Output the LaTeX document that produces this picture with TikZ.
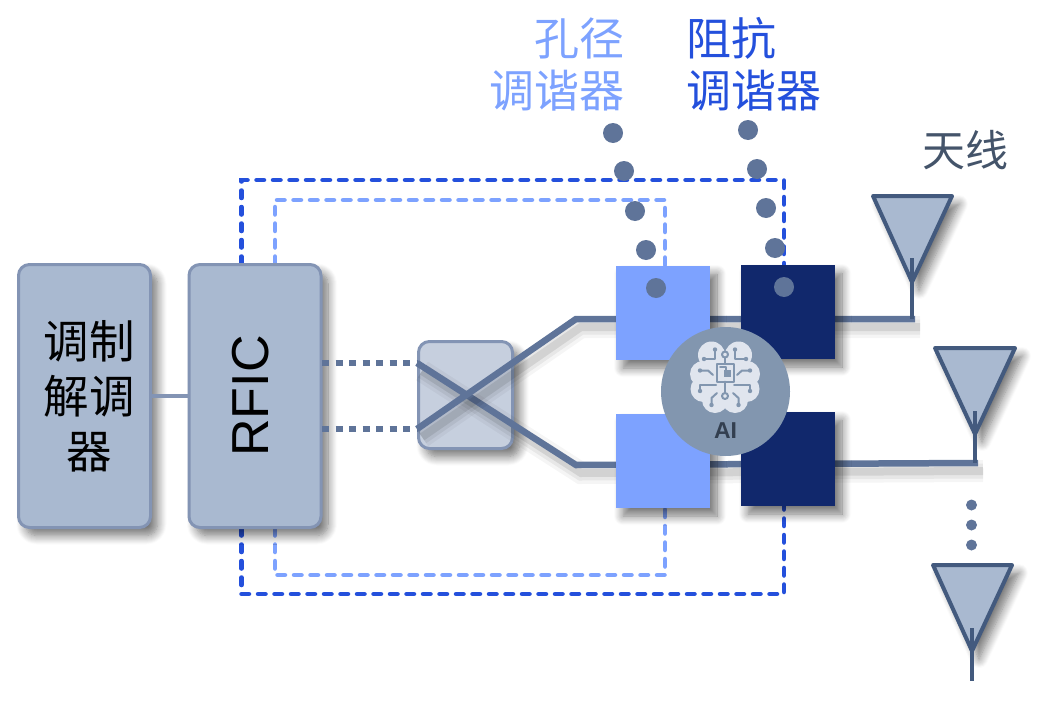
\documentclass[tikz,border=0pt]{standalone}
\usepackage{fontspec}
\setmainfont{Liberation Sans}
\newfontfamily\cjk{Noto Sans CJK SC}
\usetikzlibrary{shadows.blur}
\definecolor{boxfill}{HTML}{A9B9D0}
\definecolor{boxline}{HTML}{8394B4}
\definecolor{swfill}{HTML}{C6CFDE}
\definecolor{wire}{HTML}{5F7499}
\definecolor{ctrldark}{HTML}{2450DC}
\definecolor{ctrllight}{HTML}{7DA2FF}
\definecolor{navy}{HTML}{11286C}
\definecolor{aigray}{HTML}{8296AF}
\definecolor{brainfill}{HTML}{E0E5EE}
\definecolor{antline}{HTML}{435A7E}
\definecolor{anttext}{HTML}{44546A}
\definecolor{aitext}{HTML}{333F50}
\tikzset{
  softshadow/.style={blur shadow={shadow xshift=7pt,shadow yshift=-8pt,shadow blur radius=9pt,shadow blur steps=10,shadow opacity=55}},
  block/.style={draw=boxline,fill=boxfill,line width=3pt,rounded corners=11pt,minimum width=132pt,minimum height=263pt,softshadow},
  tuner/.style={minimum width=94pt,minimum height=94pt,inner sep=0pt,softshadow},
  wireline/.style={draw=wire,line width=6.5pt,
    preaction={draw=black,opacity=.04,line width=22pt,transform canvas={shift={(5pt,-8pt)}}},
    preaction={draw=black,opacity=.06,line width=15pt,transform canvas={shift={(5pt,-8pt)}}},
    preaction={draw=black,opacity=.09,line width=8pt,transform canvas={shift={(5pt,-8pt)}}}},
  ctrlline/.style={line width=4.5pt,line cap=round,dash pattern=on 7.5pt off 9pt},
  dotted wire/.style={draw=wire,line width=6.5pt,dash pattern=on 7pt off 6.5pt},
  tracedot/.style={circle,fill=wire,minimum size=20pt,inner sep=0pt},
  smalldot/.style={circle,fill=wire,minimum size=11pt,inner sep=0pt},
  antenna/.style={draw=antline,fill=boxfill,line width=4pt,line join=round,softshadow},
  antstem/.style={draw=antline,line width=4pt},
  circuit/.style={draw=aigray,line width=2pt,line cap=round,line join=round},
  endpad/.style={fill=aigray}
}
\begin{document}
\begin{tikzpicture}[x=1pt,y=-1pt]
\useasboundingbox (0,0) rectangle (1049,701);
% fixed points of the routing
\coordinate (ctrlDTa) at (241.5,264);
\coordinate (ctrlDTb) at (241.5,180);
\coordinate (ctrlDTc) at (784,180);
\coordinate (ctrlDTd) at (784,265);
\coordinate (ctrlLTa) at (275,264);
\coordinate (ctrlLTb) at (275,200);
\coordinate (ctrlLTc) at (665,200);
\coordinate (ctrlLTd) at (665,266);
\coordinate (ctrlDBa) at (241.5,528);
\coordinate (ctrlDBb) at (241.5,594);
\coordinate (ctrlDBc) at (784,594);
\coordinate (ctrlDBd) at (784,506);
\coordinate (ctrlLBa) at (275,528);
\coordinate (ctrlLBb) at (275,575);
\coordinate (ctrlLBc) at (665,575);
\coordinate (ctrlLBd) at (665,508);
\coordinate (swinA) at (417,363);
\coordinate (swinB) at (417,429);
\coordinate (rfoutA) at (322,363);
\coordinate (rfoutB) at (322,429);
\coordinate (bendA) at (576,319);
\coordinate (bendB) at (576,465);
\coordinate (feedA) at (915,319);
\coordinate (feedB) at (978,463);
\coordinate (stemAt) at (912,258);
\coordinate (stemAb) at (912,319);
\coordinate (stemBt) at (975,411);
\coordinate (stemBb) at (975,463);
\coordinate (stemCt) at (972,628);
\coordinate (stemCb) at (972,681);
% control lines
\draw[ctrlline,draw=ctrldark] (ctrlDTa) -- (ctrlDTb) -- (ctrlDTc) -- (ctrlDTd);
\draw[ctrlline,draw=ctrllight] (ctrlLTa) -- (ctrlLTb) -- (ctrlLTc) -- (ctrlLTd);
\draw[ctrlline,draw=ctrldark] (ctrlDBa) -- (ctrlDBb) -- (ctrlDBc) -- (ctrlDBd);
\draw[ctrlline,draw=ctrllight] (ctrlLBa) -- (ctrlLBb) -- (ctrlLBc) -- (ctrlLBd);
% blocks
\node[block,font=\cjk\fontsize{45.5}{55}\selectfont,align=center] (modem) at (84.5,396) {\hspace*{9pt}调制\\\hspace*{9pt}解调\\\hspace*{9pt}器};
\node[block] (rfic) at (255,396) {};
\node[rotate=90,font=\fontsize{52}{52}\selectfont] (rficlabel) at (251,396) {RFIC};
\node[block,fill=swfill,minimum width=94pt,minimum height=107pt] (switch) at (465.5,395) {};
\draw[draw=boxline,line width=3.5pt] (modem) -- (rfic);
\draw[dotted wire] (rfoutA) -- (swinA);
\draw[dotted wire] (rfoutB) -- (swinB);
% rf paths
\draw[wireline] (swinA) -- (bendB) -- (feedB);
\draw[wireline] (swinB) -- (bendA) -- (feedA);
% tuners
\node[tuner,fill=ctrllight] (apTop) at (663,313) {};
\node[tuner,fill=navy] (imTop) at (788,312) {};
\node[tuner,fill=ctrllight] (apBot) at (663,461) {};
\node[tuner,fill=navy] (imBot) at (788,459) {};
% antennas
\draw[antenna] (873,196) -- (952,196) -- (912,282) -- cycle;
\draw[antenna] (935,348) -- (1015,348) -- (975,434) -- cycle;
\draw[antenna] (933,565) -- (1012,565) -- (972,651) -- cycle;
\draw[antstem] (stemAt) -- (stemAb);
\draw[antstem] (stemBt) -- (stemBb);
\draw[antstem] (stemCt) -- (stemCb);
\foreach \i/\y in {1/505,2/525,3/545}
  \node[smalldot] (more\i) at (971.5,\y) {};
% tuner control dots
\foreach \i/\x/\y in {1/613/133,2/624/171,3/635/211,4/646/250,5/656/288}
  \node[tracedot] (apdot\i) at (\x,\y) {};
\foreach \i/\x/\y in {1/748/130,2/757/169,3/766/208,4/775/248,5/784/287}
  \node[tracedot] (imdot\i) at (\x,\y) {};
% ai badge
\node[circle,fill=aigray,minimum size=129pt,inner sep=0pt] (ai) at (725.5,391.5) {};
\fill[brainfill] (711.5,355) circle (13.5pt) (738.5,355) circle (13.5pt)
  (703,374) circle (13pt) (747,374) circle (13pt)
  (703.5,389) circle (13pt) (746.5,389) circle (13pt)
  (715,400) circle (13pt) (735,400) circle (13pt)
  (706,354) rectangle (744,400);
\foreach \s in {1,-1} {
  \begin{scope}[xshift=725pt,xscale=\s]
    \draw[circuit] (-21,359) -- (-10,359) -- (-10,349.5);
    \draw[circuit] (-25,370.5) -- (-17,370.5) -- (-12,375);
    \draw[circuit] (-25,391) -- (-25,385) -- (-9,385);
    \draw[circuit] (-13.5,405) -- (-13.5,398) -- (-8,393);
    \fill[endpad] (-21,359) circle (2.2pt) (-10,349.5) circle (2.2pt)
      (-25,370.5) circle (2.2pt) (-25,391) circle (2.2pt) (-13.5,405) circle (2.2pt);
  \end{scope}
}
\draw[circuit] (725,357) -- (725,393);
\draw[circuit,fill=brainfill] (725,354.5) circle (3pt) (725,396) circle (3pt);
\draw[circuit,fill=brainfill] (716.5,363.5) rectangle (734,381.5);
\draw[circuit] (720,367) -- (726,367) -- (726,371);
\fill[endpad] (724,370) rectangle (731,377);
\draw[circuit] (725,381.5) -- (725,393);
\node[text=aitext,font=\bfseries\fontsize{23}{23}\selectfont] (ailabel) at (725.5,431) {AI};
% labels
\node[anchor=east,align=right,text=ctrllight,inner sep=0pt,font=\cjk\fontsize{45}{52}\selectfont] (aptext) at (625,64)
  {孔径\\调谐器};
\node[anchor=west,align=left,text=ctrldark,inner sep=0pt,font=\cjk\fontsize{45}{52}\selectfont] (imtext) at (686.5,64)
  {阻抗\\调谐器};
\node[text=anttext,inner sep=0pt,font=\cjk\fontsize{43}{43}\selectfont] (anttitle) at (965.5,150) {天线};
\end{tikzpicture}
\end{document}
